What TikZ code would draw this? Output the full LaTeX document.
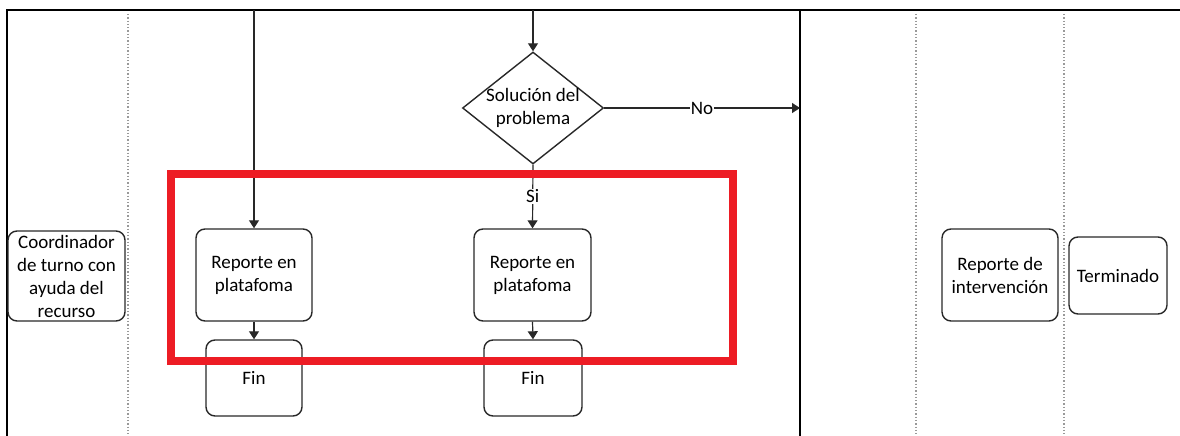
\documentclass[tikz,border=0pt]{standalone}
\usepackage{fontspec}
\setmainfont{Carlito}
\usetikzlibrary{shapes.geometric,arrows.meta}
\definecolor{redbox}{RGB}{237,28,36}
\definecolor{boxline}{RGB}{40,40,40}
\tikzset{
  proc/.style={draw=boxline, line width=1.4pt, rounded corners=9pt, align=center, inner sep=0pt, font=\fontsize{19}{23}\selectfont},
  conn/.style={draw=boxline, line width=1.2pt, -{Triangle[length=8pt,width=10pt]}},
  lbl/.style={fill=white, inner sep=1pt, font=\fontsize{19}{23}\selectfont},
  frame/.style={line width=2pt, black},
  lane/.style={gray!80, line width=1.3pt, dotted},
}
\begin{document}
\begin{tikzpicture}[x=1pt,y=-1pt]
\useasboundingbox (0,0) rectangle (1180,436);
% frame and lanes
\draw[frame] (7,436) -- (7,10) -- (1180,10);
\draw[frame] (800,10) -- (800,436);
\draw[lane] (128,14) -- (128,436);
\draw[lane] (916,14) -- (916,436);
\draw[lane] (1064,14) -- (1064,436);
% nodes
\node[proc, minimum width=117pt, minimum height=90pt] (coord) at (66.5,276) {Coordinador\\de turno con\\ayuda del\\recurso};
\node[proc, minimum width=116pt, minimum height=92pt] (rep1) at (254,275) {Reporte en\\platafoma};
\node[proc, minimum width=96pt, minimum height=76pt] (fin1) at (254,378) {Fin};
\node[diamond, draw=boxline, line width=1.4pt, minimum width=141pt, minimum height=112pt, inner sep=0pt] (dia) at (533,108) {};
\node[align=center, font=\fontsize{19}{23}\selectfont] (diatext) at (dia.center) {Solución del\\problema};
\node[proc, minimum width=117pt, minimum height=92pt] (rep2) at (532.5,275) {Reporte en\\platafoma};
\node[proc, minimum width=98pt, minimum height=76pt] (fin2) at (533,378) {Fin};
\node[proc, minimum width=116pt, minimum height=92pt] (repint) at (1000,275) {Reporte de\\intervención};
\node[proc, minimum width=98pt, minimum height=77pt] (term) at (1118,275.5) {Terminado};
% connectors
\coordinate (t1) at (254,10);
\coordinate (t2) at (533,10);
\coordinate (laneend) at (800,108);
\draw[conn] (t1) -- (rep1.north);
\draw[conn] (rep1.south) -- (fin1.north);
\draw[conn] (t2) -- (dia.north);
\draw[conn] (dia.east) -- node[lbl] {No} (laneend);
\draw[conn] (dia.south) -- node[lbl] {Si} (rep2.north);
\draw[conn] (rep2.south) -- (fin2.north);
% highlight
\draw[redbox, line width=8pt] (170.5,174) rectangle (732.5,360.5);
\end{tikzpicture}
\end{document}
